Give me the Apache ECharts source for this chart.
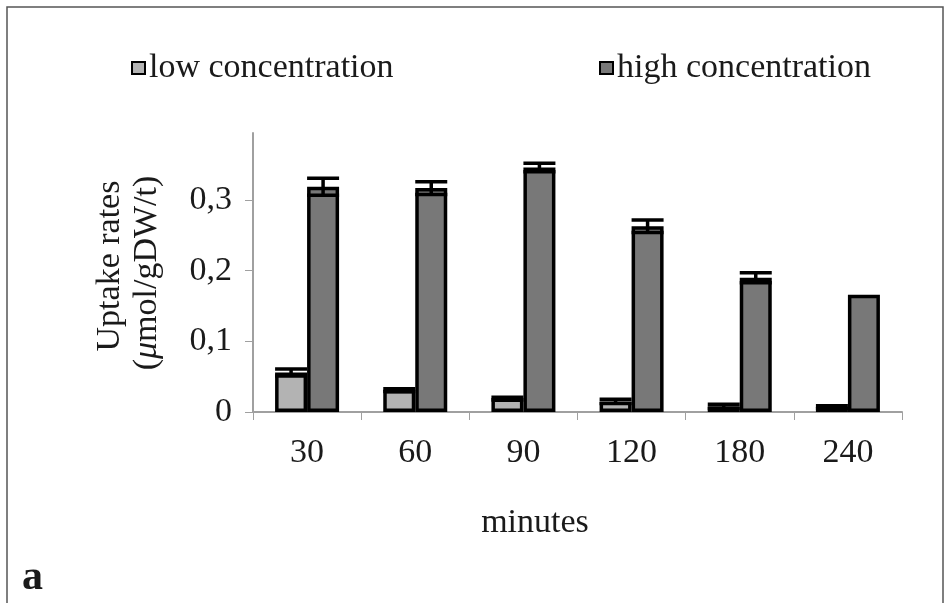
<!DOCTYPE html>
<html>
<head>
<meta charset="utf-8">
<script src="https://cdn.jsdelivr.net/npm/echarts@6/dist/echarts.min.js"></script>
<style>
  html, body { margin: 0; padding: 0; background: #fff; }
  #chart { width: 950px; height: 603px; }
</style>
</head>
<body>
<div id="chart"></div>
<script>
// minutes after start
const categories = ['30', '60', '90', '120', '180', '240'];
const lowValues = [0.056, 0.031, 0.019, 0.015, 0.008, 0.007];
const lowErrors = [0.005, 0.002, 0.002, 0.003, 0.003, 0.002];
const highValues = [0.319, 0.317, 0.346, 0.263, 0.190, 0.166];
const highErrors = [0.012, 0.009, 0.006, 0.009, 0.007, 0];
const yTicks = [0, 0.1, 0.2, 0.3];

const FONT = 'Liberation Serif';
const FS = 34;
const BAR_W = 32;

const chart = echarts.init(document.getElementById('chart'));

// error bar drawn over the bar, shifted to its slot
function errorBars(values, errors, shift) {
  return {
    type: 'custom',
    z: 5,
    silent: true,
    data: values.map((v, i) => [i, v, errors[i]]),
    encode: { x: 0, y: 1 },
    renderItem: (params, api) => {
      const i = api.value(0);
      const v = api.value(1);
      const e = api.value(2);
      if (!e) return null;
      const x = api.coord([i, v])[0] + shift;
      const yHi = api.coord([i, v + e])[1];
      const yLo = api.coord([i, v - e])[1];
      const half = 16;
      const style = { stroke: '#000', lineWidth: 3.5 };
      return {
        type: 'group',
        children: [
          { type: 'line', shape: { x1: x, y1: yHi, x2: x, y2: yLo }, style },
          { type: 'line', shape: { x1: x - half, y1: yHi, x2: x + half, y2: yHi }, style },
          { type: 'line', shape: { x1: x - half, y1: yLo, x2: x + half, y2: yLo }, style }
        ]
      };
    }
  };
}

const legendBase = {
  top: 46,
  icon: 'rect',
  itemWidth: 13,
  itemHeight: 12,
  itemGap: 4,
  textStyle: { fontFamily: FONT, fontSize: FS, color: '#1a1a1a', padding: [0, 0, 0, -1] }
};

const option = {
  animation: false,
  backgroundColor: '#fff',
  legend: [
    Object.assign({ left: 126, data: ['low concentration'] }, legendBase),
    Object.assign({ left: 594, data: ['high concentration'] }, legendBase)
  ],
  grid: { left: 253, right: 48, top: 133, bottom: 191 },
  xAxis: {
    type: 'category',
    data: categories,
    axisLine: { lineStyle: { color: '#a0a0a0', width: 2 } },
    axisTick: { show: true, length: 8, lineStyle: { color: '#a0a0a0' } },
    axisLabel: { fontFamily: FONT, fontSize: FS, color: '#1a1a1a', margin: 24 }
  },
  yAxis: {
    type: 'value',
    min: 0,
    max: 0.395,
    interval: 0.1,
    splitLine: { show: false },
    axisLine: { show: true, lineStyle: { color: '#a0a0a0', width: 2 } },
    axisTick: { show: true, length: 8, customValues: yTicks, lineStyle: { color: '#a0a0a0' } },
    axisLabel: {
      fontFamily: FONT, fontSize: FS, color: '#1a1a1a', margin: 21,
      customValues: yTicks,
      formatter: v => (v === 0 ? '0' : v.toFixed(1).replace('.', ','))
    }
  },
  series: [
    {
      name: 'low concentration',
      type: 'bar',
      barWidth: BAR_W,
      barGap: '0%',
      data: lowValues,
      itemStyle: { color: '#b3b3b3', borderColor: '#000', borderWidth: 3.5 }
    },
    {
      name: 'high concentration',
      type: 'bar',
      barWidth: BAR_W,
      barGap: '0%',
      data: highValues,
      itemStyle: { color: '#787878', borderColor: '#000', borderWidth: 3.5 }
    },
    errorBars(lowValues, lowErrors, -BAR_W / 2),
    errorBars(highValues, highErrors, BAR_W / 2)
  ],
  graphic: [
    {
      type: 'rect',
      silent: true,
      shape: { x: 7, y: 7, width: 936, height: 640 },
      style: { fill: 'none', stroke: '#555', lineWidth: 1.5 }
    },
    {
      type: 'text',
      x: 110, y: 266, rotation: Math.PI / 2,
      style: {
        text: 'Uptake rates', fontFamily: FONT, fontSize: FS, fill: '#1a1a1a',
        align: 'center', verticalAlign: 'middle'
      }
    },
    {
      type: 'text',
      x: 147, y: 273, rotation: Math.PI / 2,
      style: {
        text: '({i|μ}mol/gDW/t)', fontFamily: FONT, fontSize: FS, fill: '#1a1a1a',
        align: 'center', verticalAlign: 'middle',
        rich: { i: { fontFamily: FONT, fontSize: FS, fontStyle: 'italic', fill: '#1a1a1a' } }
      }
    },
    {
      type: 'text',
      x: 535, y: 523,
      style: {
        text: 'minutes', fontFamily: FONT, fontSize: FS, fill: '#1a1a1a',
        align: 'center', verticalAlign: 'middle'
      }
    },
    {
      type: 'text',
      x: 22, y: 578,
      style: {
        text: 'a', fontFamily: FONT, fontSize: 42, fontWeight: 'bold', fill: '#1a1a1a',
        align: 'left', verticalAlign: 'middle'
      }
    }
  ]
};

chart.setOption(option);
</script>
</body>
</html>
